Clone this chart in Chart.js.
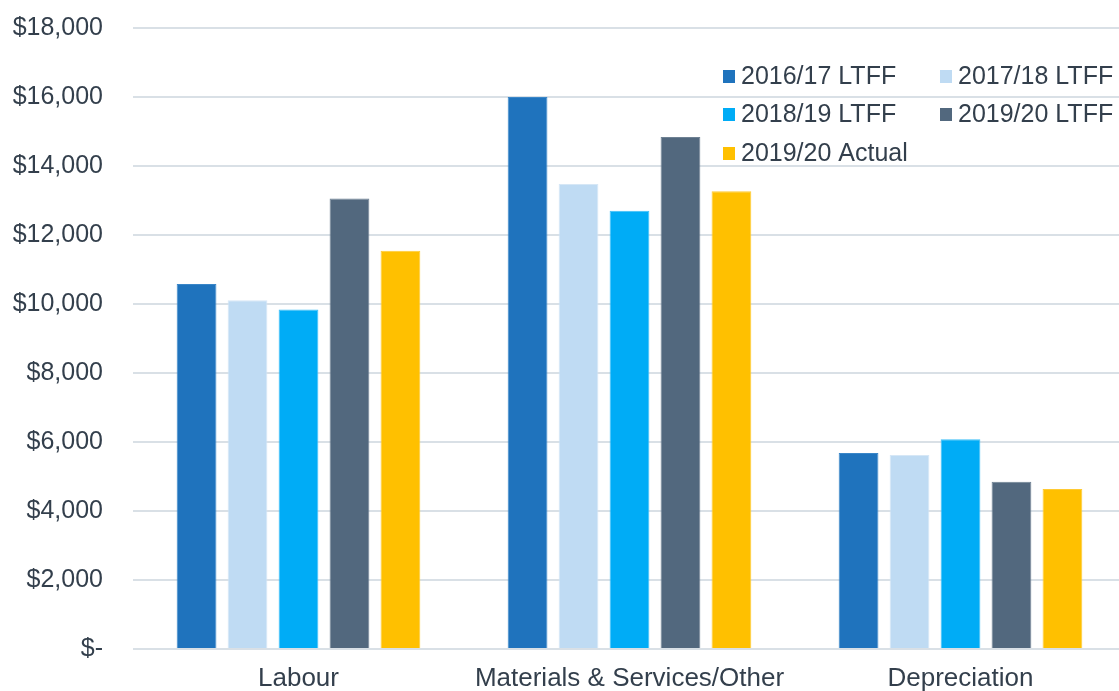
<!DOCTYPE html>
<html>
<head>
<meta charset="utf-8">
<script src="https://cdn.jsdelivr.net/npm/chart.js@4.4.0/dist/chart.umd.min.js"></script>
<style>
  html, body { margin: 0; padding: 0; background: #fff; overflow: hidden; }
  #wrap { width: 1119px; height: 691px; overflow: hidden; position: relative; }
  canvas { display: block; }
</style>
</head>
<body>
<div id="wrap"><canvas id="costs" width="1126" height="691"></canvas></div>
<script>
const categories = ["Labour", "Materials & Services/Other", "Depreciation"];
const seriesNames = ["2016/17 LTFF", "2017/18 LTFF", "2018/19 LTFF", "2019/20 LTFF", "2019/20 Actual"];
const ltff1617 = [10580, 16000, 5680];
const ltff1718 = [10110, 13480, 5620];
const ltff1819 = [9840, 12700, 6080];
const ltff1920 = [13060, 14840, 4850];
const actual1920 = [11540, 13270, 4640];
const yTicks = [0, 2000, 4000, 6000, 8000, 10000, 12000, 14000, 16000, 18000];

const colors = ["#1f73bd", "#bfdbf3", "#00acf6", "#52687e", "#ffc000"];
const borders = ["#3a86c8", "#d6e7f6", "#3dbff8", "#6e8193", "#ffca33"];
const textColor = "#333f4c";
const fontFamily = "'Liberation Sans', Arial, sans-serif";

const allSeries = [ltff1617, ltff1718, ltff1819, ltff1920, actual1920];

// legend drawn on the canvas, two columns top right
const legendPlugin = {
    id: "cornerLegend",
    afterDraw(chart) {
        const ctx = chart.ctx;
        const cols = [723, 940];
        const rows = [76, 114, 153];
        ctx.save();
        ctx.font = "25px " + fontFamily;
        ctx.textBaseline = "middle";
        chart.data.datasets.forEach((ds, i) => {
            const x = cols[i % 2];
            const y = rows[Math.floor(i / 2)];
            ctx.fillStyle = ds.backgroundColor;
            ctx.fillRect(x, y - 6, 12, 13);
            ctx.fillStyle = textColor;
            ctx.fillText(ds.label, x + 18, y + 1);
        });
        ctx.restore();
    }
};

const ctx = document.getElementById("costs").getContext("2d");
let myChart = new Chart(ctx, {
    type: "bar",
    data: {
        labels: categories,
        datasets: seriesNames.map((name, i) => ({
            label: name,
            data: allSeries[i],
            backgroundColor: colors[i],
            borderColor: borders[i],
            borderWidth: 1,
            categoryPercentage: 0.77,
            barPercentage: 0.78
        }))
    },
    options: {
        responsive: false,
        animation: false,
        layout: { padding: { top: 28, right: 0, left: 0, bottom: 0 } },
        plugins: {
            legend: { display: false },
            tooltip: { enabled: false }
        },
        scales: {
            x: {
                grid: { display: false, drawTicks: false },
                border: { display: false },
                ticks: {
                    color: textColor,
                    font: { family: fontFamily, size: 26 },
                    padding: 14,
                    maxRotation: 0
                },
                afterFit(scale) { scale.height = 42; }
            },
            y: {
                min: 0,
                max: 18000,
                afterBuildTicks(scale) {
                    scale.ticks = yTicks.map(v => ({ value: v }));
                },
                grid: { color: "#d9e0e6", lineWidth: 2, drawTicks: false },
                border: { display: false },
                ticks: {
                    color: textColor,
                    font: { family: fontFamily, size: 25 },
                    padding: 30,
                    callback: v => v === 0 ? "$-" : "$" + v.toLocaleString("en-US")
                },
                afterFit(scale) {
                    scale.width = 133;
                    scale.paddingTop = 0;
                    scale.paddingBottom = 0;
                }
            }
        }
    },
    plugins: [legendPlugin]
});
</script>
</body>
</html>
